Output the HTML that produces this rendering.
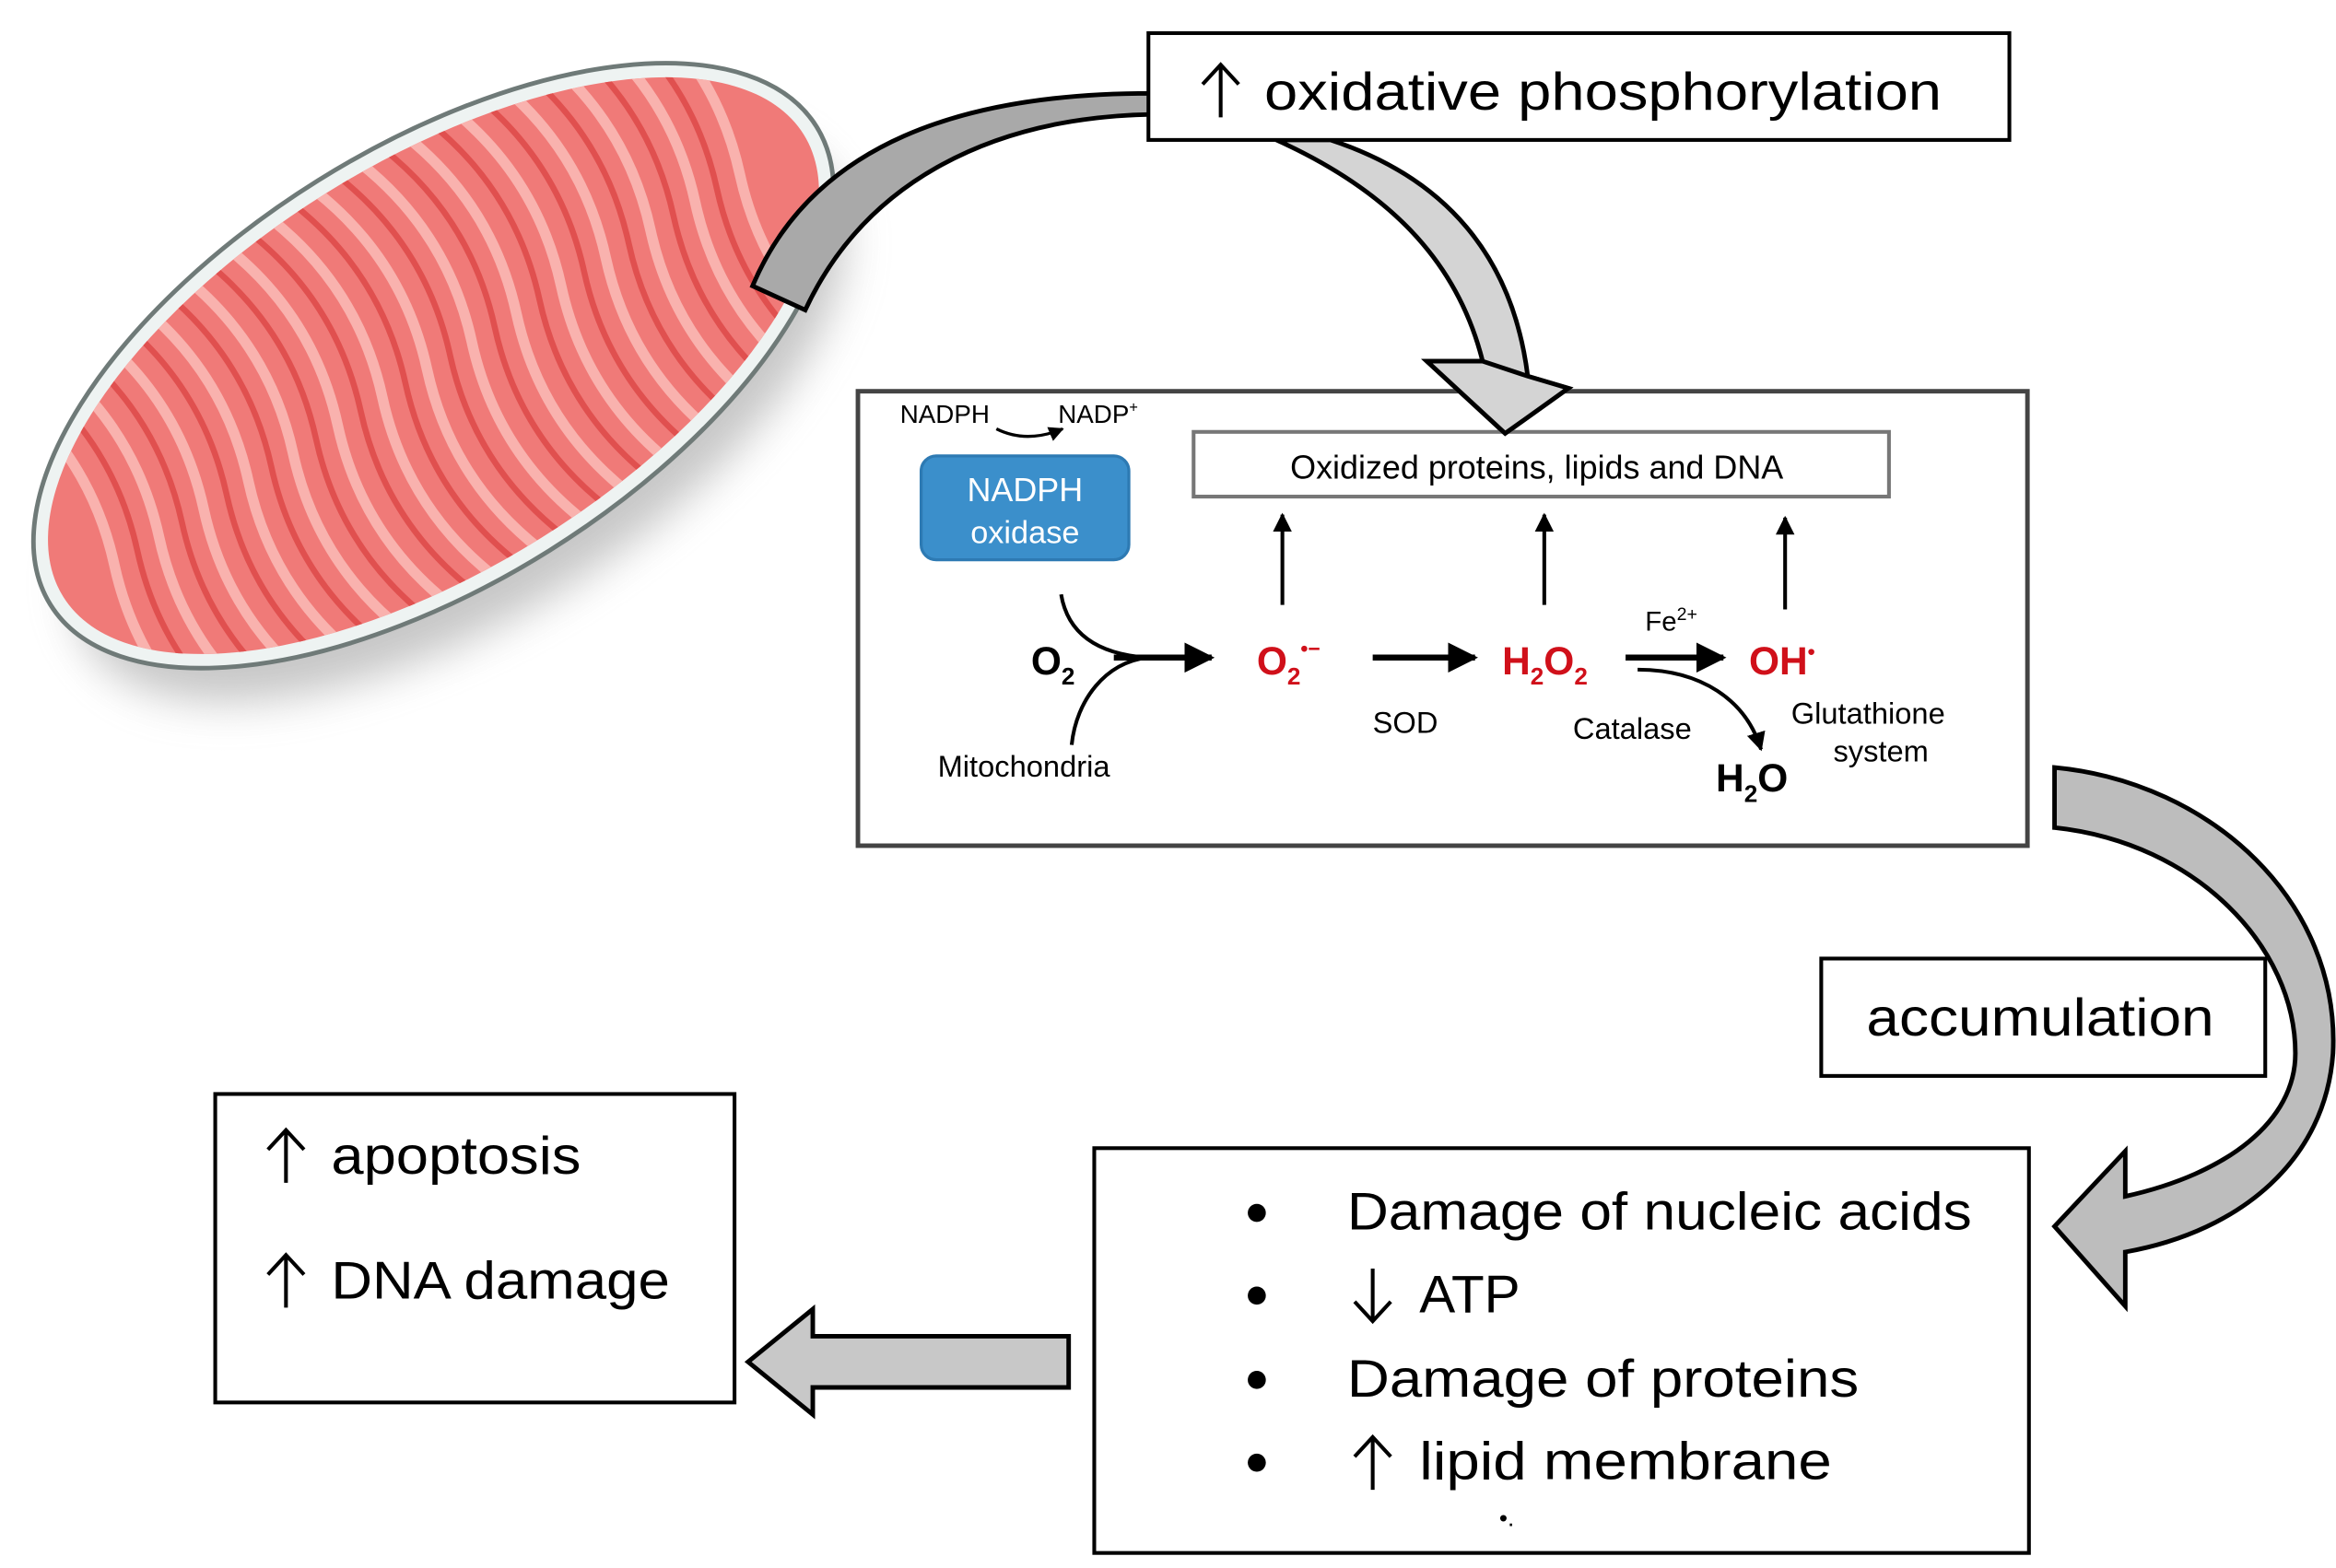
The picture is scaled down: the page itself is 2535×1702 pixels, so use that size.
<!DOCTYPE html>
<html><head><meta charset="utf-8"><style>
html,body{margin:0;padding:0;background:#fff;}
svg{display:block;}
text{font-family:"Liberation Sans",Arial,sans-serif;}
</style></head><body>
<svg width="2535" height="1702" viewBox="0 0 1552 1042" preserveAspectRatio="none" xmlns="http://www.w3.org/2000/svg">
<defs>
<filter id="blur" x="-30%" y="-30%" width="160%" height="160%"><feGaussianBlur stdDeviation="14"/></filter>
<clipPath id="mclip"><ellipse cx="0" cy="0" rx="290" ry="135"/></clipPath>
<marker id="ah" viewBox="0 0 10 10" refX="9" refY="5" markerWidth="5" markerHeight="5" orient="auto"><path d="M0,0 L10,5 L0,10 Z" fill="#000"/></marker>
</defs>

<!-- mitochondrion -->
<ellipse cx="305" cy="275" rx="290" ry="135" transform="rotate(-32 305 275)" fill="#999" opacity="0.55" filter="url(#blur)"/>
<g transform="translate(288,243) rotate(-32)">
  <ellipse cx="0" cy="0" rx="300" ry="145" fill="#eef3f2" stroke="#6f7a78" stroke-width="3"/>
  <g clip-path="url(#mclip)">
    <rect x="-300" y="-145" width="600" height="290" fill="#f07a78"/>
    <g fill="none" stroke="#f9b2ae" stroke-width="7">
      <path d="M-250,-140 q25,70 0,140 q-25,70 0,140 M-215,-140 q25,70 0,140 q-25,70 0,140 M-180,-140 q25,70 0,140 q-25,70 0,140 M-145,-140 q25,70 0,140 q-25,70 0,140 M-110,-140 q25,70 0,140 q-25,70 0,140 M-75,-140 q25,70 0,140 q-25,70 0,140 M-40,-140 q25,70 0,140 q-25,70 0,140 M-5,-140 q25,70 0,140 q-25,70 0,140 M30,-140 q25,70 0,140 q-25,70 0,140 M65,-140 q25,70 0,140 q-25,70 0,140 M100,-140 q25,70 0,140 q-25,70 0,140 M135,-140 q25,70 0,140 q-25,70 0,140 M170,-140 q25,70 0,140 q-25,70 0,140 M205,-140 q25,70 0,140 q-25,70 0,140 M240,-140 q25,70 0,140 q-25,70 0,140"/>
    </g>
    <g fill="none" stroke="#e0504f" stroke-width="4">
      <path d="M-232,-140 q25,70 0,140 q-25,70 0,140 M-197,-140 q25,70 0,140 q-25,70 0,140 M-162,-140 q25,70 0,140 q-25,70 0,140 M-127,-140 q25,70 0,140 q-25,70 0,140 M-92,-140 q25,70 0,140 q-25,70 0,140 M-57,-140 q25,70 0,140 q-25,70 0,140 M-22,-140 q25,70 0,140 q-25,70 0,140 M13,-140 q25,70 0,140 q-25,70 0,140 M48,-140 q25,70 0,140 q-25,70 0,140 M83,-140 q25,70 0,140 q-25,70 0,140 M118,-140 q25,70 0,140 q-25,70 0,140 M153,-140 q25,70 0,140 q-25,70 0,140 M188,-140 q25,70 0,140 q-25,70 0,140 M222,-140 q25,70 0,140 q-25,70 0,140"/>
    </g>
  </g>
</g>

<!-- top curved arrow (left part) -->
<path d="M500,190 C540,95 640,62 765,62 L765,76 C660,78 575,120 535,206 Z" fill="#a9a9a9" stroke="#000" stroke-width="3"/>
<!-- top curved arrow (right part) -->
<path d="M848,93 C930,130 970,180 985,240 L948,240 L1000,288 L1042,258 L1015,250 C1005,170 960,118 884,93 Z" fill="#d4d4d4" stroke="#000" stroke-width="3"/>

<!-- top box -->
<rect x="763" y="22" width="572" height="71" fill="#fff" stroke="#000" stroke-width="2.5"/>
<path d="M811,78 V44 M799,56 L811,43 L823,56" fill="none" stroke="#000" stroke-width="2.5"/>
<text x="840" y="73" font-size="35" textLength="450" lengthAdjust="spacingAndGlyphs">oxidative phosphorylation</text>

<!-- middle box -->
<rect x="570" y="260" width="777" height="302" fill="none" stroke="#444" stroke-width="3"/>
<rect x="793" y="287" width="462" height="43" fill="#fff" stroke="#777" stroke-width="2.5"/>
<path d="M948,240 L1000,288 L1042,258 L1015,250 L985,240 Z" fill="#d4d4d4" stroke="#000" stroke-width="3"/>
<text x="1021" y="318" font-size="22" text-anchor="middle">Oxidized proteins, lipids and DNA</text>

<text x="598" y="281" font-size="17">NADPH</text>
<text x="703" y="281" font-size="17">NADP<tspan font-size="10" dy="-7">+</tspan></text>
<path d="M662,285 q20,10 44,0" fill="none" stroke="#000" stroke-width="2" marker-end="url(#ah)"/>
<rect x="612" y="303" width="138" height="69" rx="10" fill="#3b8fcb" stroke="#2d7ab3" stroke-width="2"/>
<text x="681" y="333" font-size="22" fill="#fff" text-anchor="middle">NADPH</text>
<text x="681" y="361" font-size="21" fill="#fff" text-anchor="middle">oxidase</text>

<path d="M705,395 C710,425 735,435 762,437" fill="none" stroke="#000" stroke-width="2.5"/>
<path d="M712,495 C715,465 735,440 762,437" fill="none" stroke="#000" stroke-width="2.5"/>
<line x1="740" y1="437" x2="805" y2="437" stroke="#000" stroke-width="4" marker-end="url(#ah)"/>
<text x="685" y="448" font-size="26" font-weight="bold">O<tspan font-size="16" dy="7">2</tspan></text>
<text x="623" y="516" font-size="20">Mitochondria</text>

<text x="835" y="448" font-size="26" font-weight="bold" fill="#d0101a">O<tspan font-size="16" dy="7">2</tspan><tspan font-size="14" dy="-19">•−</tspan></text>
<line x1="912" y1="437" x2="980" y2="437" stroke="#000" stroke-width="4" marker-end="url(#ah)"/>
<text x="912" y="487" font-size="20">SOD</text>

<text x="998" y="448" font-size="26" font-weight="bold" fill="#d0101a">H<tspan font-size="16" dy="7">2</tspan><tspan dy="-7">O</tspan><tspan font-size="16" dy="7">2</tspan></text>
<line x1="1080" y1="437" x2="1145" y2="437" stroke="#000" stroke-width="4" marker-end="url(#ah)"/>
<text x="1093" y="419" font-size="18">Fe<tspan font-size="12" dy="-7">2+</tspan></text>
<text x="1162" y="448" font-size="26" font-weight="bold" fill="#d0101a">OH<tspan font-size="14" dy="-10">•</tspan></text>

<path d="M1088,445 C1130,445 1160,465 1170,498" fill="none" stroke="#000" stroke-width="2.5" marker-end="url(#ah)"/>
<text x="1045" y="491" font-size="20">Catalase</text>
<text x="1140" y="526" font-size="26" font-weight="bold">H<tspan font-size="16" dy="7">2</tspan><tspan dy="-7">O</tspan></text>
<text x="1190" y="481" font-size="20">Glutathione</text>
<text x="1218" y="506" font-size="20">system</text>

<line x1="852" y1="402" x2="852" y2="342" stroke="#000" stroke-width="2.5" marker-end="url(#ah)"/>
<line x1="1026" y1="402" x2="1026" y2="342" stroke="#000" stroke-width="2.5" marker-end="url(#ah)"/>
<line x1="1186" y1="405" x2="1186" y2="344" stroke="#000" stroke-width="2.5" marker-end="url(#ah)"/>

<!-- right curved arrow -->
<path d="M1365,510 C1470,520 1555,600 1550,700 C1545,770 1490,818 1412,832 L1412,868 L1365,815 L1412,765 L1412,795 C1480,780 1525,745 1525,700 C1525,630 1460,560 1365,550 Z" fill="#bdbdbd" stroke="#000" stroke-width="3"/>

<!-- accumulation -->
<rect x="1210" y="637" width="295" height="78" fill="#fff" stroke="#000" stroke-width="2.5"/>
<text x="1240" y="688" font-size="35" textLength="231" lengthAdjust="spacingAndGlyphs">accumulation</text>

<!-- bottom box -->
<rect x="727" y="763" width="621" height="269" fill="#fff" stroke="#000" stroke-width="2.5"/>
<g font-size="35">
<circle cx="835" cy="806" r="6"/><text x="895" y="817" textLength="415" lengthAdjust="spacingAndGlyphs">Damage of nucleic acids</text>
<circle cx="835" cy="861" r="6"/><text x="943" y="872" textLength="67" lengthAdjust="spacingAndGlyphs">ATP</text>
<circle cx="835" cy="917" r="6"/><text x="895" y="928" textLength="340" lengthAdjust="spacingAndGlyphs">Damage of proteins</text>
<circle cx="835" cy="972" r="6"/><text x="943" y="983" textLength="274" lengthAdjust="spacingAndGlyphs">lipid membrane</text>
</g>
<path d="M912,843 V877 M900,865 L912,878 L924,865" fill="none" stroke="#000" stroke-width="2.5"/>
<path d="M912,990 V956 M900,968 L912,955 L924,968" fill="none" stroke="#000" stroke-width="2.5"/>
<text x="996" y="1014" font-size="16">•.</text>

<!-- left arrow -->
<path d="M710,888 L540,888 L540,870 L497,905 L540,940 L540,922 L710,922 Z" fill="#c8c8c8" stroke="#000" stroke-width="3"/>

<!-- left box -->
<rect x="143" y="727" width="345" height="205" fill="#fff" stroke="#000" stroke-width="2.5"/>
<path d="M190,786 V752 M178,764 L190,751 L202,764" fill="none" stroke="#000" stroke-width="2.5"/>
<path d="M190,869 V835 M178,847 L190,834 L202,847" fill="none" stroke="#000" stroke-width="2.5"/>
<text x="220" y="780" font-size="35" textLength="166" lengthAdjust="spacingAndGlyphs">apoptosis</text>
<text x="220" y="863" font-size="35" textLength="225" lengthAdjust="spacingAndGlyphs">DNA damage</text>
</svg>
</body></html>
